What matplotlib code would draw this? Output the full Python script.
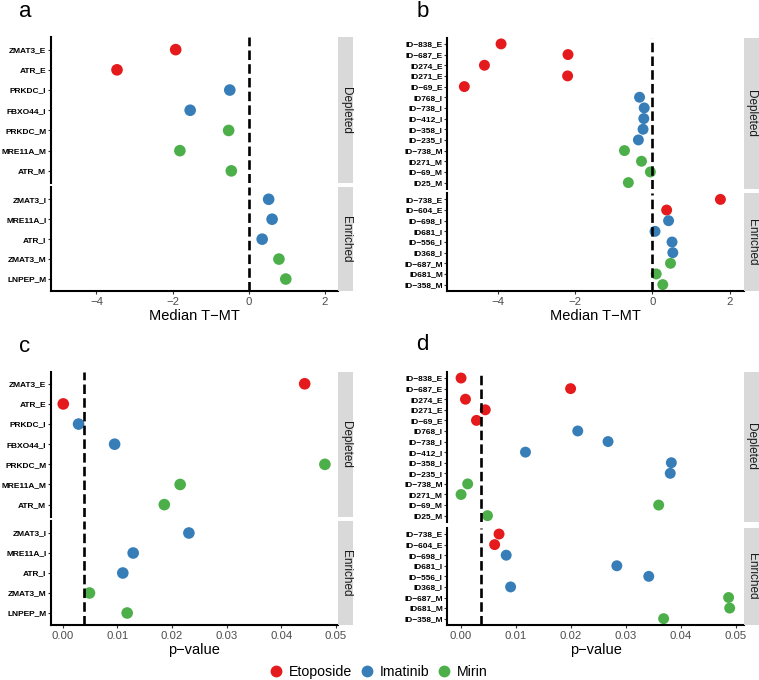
import matplotlib
matplotlib.use('Agg')
import matplotlib.pyplot as plt
from matplotlib.lines import Line2D

plt.rcParams['font.family'] = ['Liberation Sans', 'DejaVu Sans']

W, H = 759, 680
DRUG_COLORS = {'Etoposide': '#E41A1C', 'Imatinib': '#377EB8', 'Mirin': '#4DAF4A'}
SUFFIX = {'E': 'Etoposide', 'I': 'Imatinib', 'M': 'Mirin'}
drugs = ['Etoposide', 'Imatinib', 'Mirin']

# ---------------- data: panels a / c (genes) ----------------
ac_depleted = ['ZMAT3_E', 'ATR_E', 'PRKDC_I', 'FBXO44_I', 'PRKDC_M', 'MRE11A_M', 'ATR_M']
ac_enriched = ['ZMAT3_I', 'MRE11A_I', 'ATR_I', 'ZMAT3_M', 'LNPEP_M']
a_depleted_tmt = [-1.92, -3.46, -0.50, -1.54, -0.53, -1.81, -0.46]
a_enriched_tmt = [0.52, 0.61, 0.35, 0.79, 0.97]
c_depleted_p = [0.0443, 0.0001, 0.0029, 0.0095, 0.0480, 0.0215, 0.0186]
c_enriched_p = [0.0231, 0.0129, 0.0110, 0.0049, 0.0118]

# ---------------- data: panels b / d (IDs) ----------------
bd_depleted = ['ID\u2212838_E', 'ID\u2212687_E', 'ID274_E', 'ID271_E', 'ID\u221269_E',
               'ID768_I', 'ID\u2212738_I', 'ID\u2212412_I', 'ID\u2212358_I', 'ID\u2212235_I',
               'ID\u2212738_M', 'ID271_M', 'ID\u221269_M', 'ID25_M']
bd_enriched = ['ID\u2212738_E', 'ID\u2212604_E', 'ID\u2212698_I', 'ID681_I', 'ID\u2212556_I',
               'ID368_I', 'ID\u2212687_M', 'ID681_M', 'ID\u2212358_M']
b_depleted_tmt = [-3.91, -2.18, -4.34, -2.19, -4.86, -0.33, -0.21, -0.22, -0.24, -0.36,
                  -0.72, -0.28, -0.05, -0.62]
b_enriched_tmt = [1.76, 0.37, 0.42, 0.07, 0.51, 0.53, 0.47, 0.10, 0.27]
d_depleted_p = [0.0001, 0.0200, 0.0009, 0.0045, 0.0029, 0.0213, 0.0268, 0.0118, 0.0383,
                0.0381, 0.0013, 0.0001, 0.0360, 0.0049]
d_enriched_p = [0.0070, 0.0062, 0.0083, 0.0284, 0.0342, 0.0091, 0.0487, 0.0489, 0.0369]

tmt_ticks = [-4, -2, 0, 2]
p_ticks = [0.00, 0.01, 0.02, 0.03, 0.04, 0.05]
p_cutoff_ac = 0.0039
p_cutoff_bd = 0.0037

fig = plt.figure(figsize=(W / 100, H / 100), dpi=100)


def px_axes(left, top, right, bottom):
    return fig.add_axes([left / W, 1 - bottom / H, (right - left) / W, (bottom - top) / H])


def facet(ax, labels, values, xlim, vline, size, is_bottom, xticks, xticklabels, xlabel):
    n = len(labels)
    ys = list(range(n, 0, -1))
    cols = [DRUG_COLORS[SUFFIX[l[-1]]] for l in labels]
    ax.scatter(values, ys, s=size, c=cols, linewidths=0, zorder=2, clip_on=False)
    ax.axvline(vline, color='black', lw=1.9, dashes=(3.6, 1.6), zorder=3)
    ax.set_xlim(*xlim)
    ax.set_ylim(0.4, n + 0.6)
    ax.set_yticks(ys)
    ax.set_yticklabels(labels, fontsize=6, fontweight='bold', color='black')
    for s in ['top', 'right']:
        ax.spines[s].set_visible(False)
    ax.spines['left'].set_linewidth(1.5)
    ax.tick_params(axis='y', length=2.2, width=0.8, pad=1, color='#333333')
    if is_bottom:
        ax.spines['bottom'].set_linewidth(1.5)
        ax.set_xticks(xticks)
        ax.set_xticklabels(xticklabels, fontsize=8.2, color='#4D4D4D')
        ax.tick_params(axis='x', length=2.2, width=0.8, pad=2, color='#333333')
        ax.set_xlabel(xlabel, fontsize=10.5, labelpad=1.5)
    else:
        ax.spines['bottom'].set_visible(False)
        ax.set_xticks([])


def strip(left, top, right, bottom, text):
    sa = px_axes(left, top, right, bottom)
    sa.set_facecolor('#D9D9D9')
    for s in sa.spines.values():
        s.set_visible(False)
    sa.set_xticks([])
    sa.set_yticks([])
    sa.text(0.5, 0.5, text, rotation=-90, ha='center', va='center',
            fontsize=8.5, color='#1A1A1A', transform=sa.transAxes)


def panel(left, right, dep_box, enr_box, strip_right, dep_lab, dep_val, enr_lab, enr_val,
          xlim, vline, size, xticks, xticklabels, xlabel):
    ax1 = px_axes(left, dep_box[0], right, dep_box[1])
    facet(ax1, dep_lab, dep_val, xlim, vline, size, False, xticks, xticklabels, xlabel)
    ax2 = px_axes(left, enr_box[0], right, enr_box[1])
    facet(ax2, enr_lab, enr_val, xlim, vline, size, True, xticks, xticklabels, xlabel)
    strip(right, dep_box[0], strip_right, dep_box[1], 'Depleted')
    strip(right, enr_box[0], strip_right, enr_box[1], 'Enriched')


tmt_labels = ['\u22124', '\u22122', '0', '2']
p_labels = ['%.2f' % v for v in p_ticks]

# a
panel(50.7, 338, (37.5, 183), (187.3, 291), 353.3, ac_depleted, a_depleted_tmt,
      ac_enriched, a_enriched_tmt, (-5.2, 2.34), 0, 70, tmt_ticks, tmt_labels,
      'Median T\u2212MT')
# b
panel(447.3, 744, (37.5, 189), (193, 291), 759, bd_depleted, b_depleted_tmt,
      bd_enriched, b_enriched_tmt, (-5.3, 2.37), 0, 62, tmt_ticks, tmt_labels,
      'Median T\u2212MT')
# c
panel(50.7, 338, (371.7, 516.7), (521, 625), 353.3, ac_depleted, c_depleted_p,
      ac_enriched, c_enriched_p, (-0.0022, 0.0504), p_cutoff_ac, 70, p_ticks, p_labels,
      'p\u2212value')
# d
panel(447.3, 744, (371.7, 522), (527.7, 625), 759, bd_depleted, d_depleted_p,
      bd_enriched, d_enriched_p, (-0.0024, 0.0515), p_cutoff_bd, 62, p_ticks, p_labels,
      'p\u2212value')

# panel letters
for letter, x, y in [('a', 25, 16.7), ('b', 423, 16.7), ('c', 25, 351.7), ('d', 422.7, 350)]:
    fig.text(x / W, 1 - y / H, letter, ha='center', va='baseline', fontsize=16)

# legend
handles = [Line2D([], [], marker='o', ls='', color=DRUG_COLORS[d], markersize=8.5,
                  markeredgewidth=0) for d in drugs]
fig.legend(handles, drugs, loc='center', bbox_to_anchor=(378 / W, 1 - 672 / H), ncol=3,
           frameon=False, fontsize=10.2, handletextpad=0.4, columnspacing=0.55,
           handlelength=1.0, borderaxespad=0, borderpad=0)

fig.savefig('out.png', dpi=100)
